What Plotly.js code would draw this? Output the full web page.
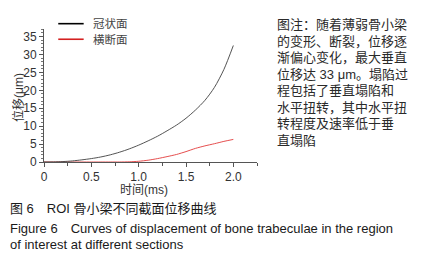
<!DOCTYPE html>
<html>
<head>
<meta charset="utf-8">
<script src="https://cdn.plot.ly/plotly-3.0.1.min.js"></script>
<style>html,body{margin:0;padding:0;background:#fff;}#chart{width:427px;height:263px;}</style>
</head>
<body>
<div id="chart"></div>
<script>
// ---- data ----
const timeMs = [0.0,0.1,0.2,0.3,0.4,0.5,0.6,0.7,0.8,0.9,1.0,1.1,1.2,1.3,1.4,1.5,1.6,1.7,1.8,1.9,2.0];
const coronal = [0,0.02,0.12,0.3,0.6,0.95,1.4,2.0,2.75,3.65,4.7,5.9,7.2,8.7,10.3,12.2,14.5,17.2,20.8,25.8,32.5];
const transverse = [0,0,0,0,0,0,0,0,0,0.05,0.2,0.5,0.95,1.5,2.1,2.9,3.8,4.5,5.1,5.75,6.3];
const seriesNames = ["冠状面","横断面"];
const xTitle = "时间(ms)";
const yTitle = "位移(μm)";
const noteLines = ["图注：随着薄弱骨小梁","的变形、断裂，位移逐","渐偏心变化，最大垂直","位移达 33 μm。塌陷过","程包括了垂直塌陷和","水平扭转，其中水平扭","转程度及速率低于垂","直塌陷"];
const captionLines = ["图 6　ROI 骨小梁不同截面位移曲线","Figure 6　Curves of displacement of bone trabeculae in the region","of interest at different sections"];

// ---- layout geometry ----
const W=427,H=263;
const L=43.7,R=169.6,T=29.3,B=101.3;
const pw=W-L-R, ph=H-T-B;
const px=x=>(x-L)/pw;
const py=y=>(H-B-y)/ph;
const FONT="Liberation Sans, Arial, Noto Sans CJK SC, sans-serif";

const traces=[
 {x:timeMs,y:transverse,mode:'lines',name:seriesNames[1],line:{color:'#e23a3a',width:0.9,shape:'spline',smoothing:0.6},hoverinfo:'skip'},
 {x:timeMs,y:coronal,mode:'lines',name:seriesNames[0],line:{color:'#404040',width:0.9,shape:'spline',smoothing:0.8},hoverinfo:'skip'}
];

const ann=[];
// axis titles
ann.push({xref:'paper',yref:'paper',x:px(144),y:py(190),text:xTitle,showarrow:false,font:{family:FONT,size:12,color:'#333'},xanchor:'center',yanchor:'middle'});
ann.push({xref:'paper',yref:'paper',x:px(17.5),y:py(97),text:yTitle,showarrow:false,textangle:-90,font:{family:FONT,size:12,color:'#333'},xanchor:'center',yanchor:'middle'});
// legend labels
ann.push({xref:'paper',yref:'paper',x:px(91),y:py(24),text:seriesNames[0],showarrow:false,font:{family:FONT,size:11.5,color:'#444'},xanchor:'left',yanchor:'middle'});
ann.push({xref:'paper',yref:'paper',x:px(91),y:py(39.5),text:seriesNames[1],showarrow:false,font:{family:FONT,size:11.5,color:'#444'},xanchor:'left',yanchor:'middle'});
// note block
noteLines.forEach((t,i)=>{
 ann.push({xref:'paper',yref:'paper',x:px(275),y:py(25+i*16.45),text:t,showarrow:false,font:{family:FONT,size:13,color:'#2a2a2a'},xanchor:'left',yanchor:'middle'});
});
// captions
const capY=[208.3,227.7,244.3];
captionLines.forEach((t,i)=>{
 ann.push({xref:'paper',yref:'paper',x:px(7.5),y:py(capY[i]),text:t,showarrow:false,font:{family:FONT,size:13,color:'#1a1a1a'},xanchor:'left',yanchor:'middle'});
});

const shapes=[
 {type:'line',xref:'paper',yref:'paper',x0:px(58),x1:px(83.5),y0:py(24),y1:py(24),line:{color:'#000',width:1.6}},
 {type:'line',xref:'paper',yref:'paper',x0:px(58),x1:px(83.5),y0:py(39.5),y1:py(39.5),line:{color:'#d42020',width:1.6}}
];

const axisCommon={showgrid:false,zeroline:false,showline:true,linecolor:'#555',linewidth:1,ticks:'outside',ticklen:4,tickwidth:1,tickcolor:'#555',tickfont:{family:FONT,size:12,color:'#333'}};

const layout={
 width:W,height:H,margin:{l:L,r:R,t:T,b:B,pad:0},
 paper_bgcolor:'#fff',plot_bgcolor:'#fff',showlegend:false,
 xaxis:Object.assign({},axisCommon,{range:[0,2.25],tickvals:[0,0.5,1,1.5,2],ticktext:['0','0.5','1.0','1.5','2.0'],minor:{dtick:0.25,tick0:0,ticks:'outside',ticklen:2.5,tickcolor:'#555'}}),
 yaxis:Object.assign({},axisCommon,{range:[0,37.1],dtick:5,tick0:0,minor:{dtick:1,tick0:0,ticks:'outside',ticklen:2,tickcolor:'#777'}}),
 annotations:ann,shapes:shapes
};
Plotly.newPlot('chart',traces,layout,{staticPlot:true,displayModeBar:false});
</script>
</body>
</html>
